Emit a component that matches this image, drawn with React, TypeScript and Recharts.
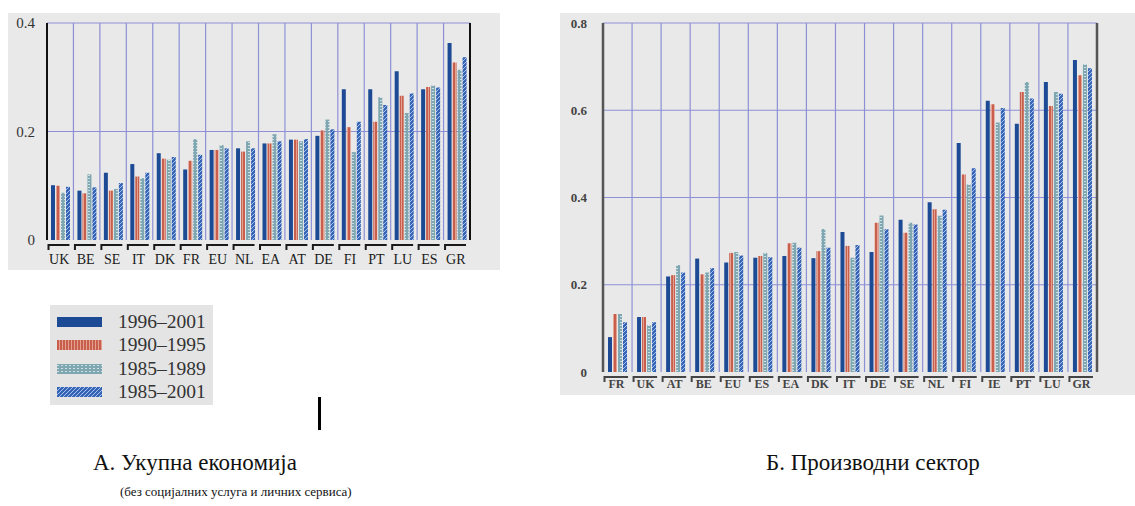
import { BarChart, Bar, XAxis, YAxis, CartesianGrid } from "recharts";

const SERIF = '"Liberation Serif", "DejaVu Serif", "Noto Serif", Tinos, "Times New Roman", serif';

// series names (legend order)
const seriesNames = ["1996–2001", "1990–1995", "1985–1989", "1985–2001"];
const seriesKeys = ["a", "b", "c", "d"];
const seriesFills = ["#1d4a94", "url(#pRed)", "url(#pTeal)", "url(#pHatch)"];

// A. total economy
const leftCats = ["UK", "BE", "SE", "IT", "DK", "FR", "EU", "NL", "EA", "AT", "DE", "FI", "PT", "LU", "ES", "GR"];
const left9601 = [0.101, 0.091, 0.124, 0.14, 0.16, 0.13, 0.166, 0.169, 0.178, 0.185, 0.192, 0.278, 0.278, 0.311, 0.278, 0.363];
const left9095 = [0.1, 0.086, 0.091, 0.117, 0.15, 0.146, 0.166, 0.163, 0.178, 0.185, 0.202, 0.208, 0.218, 0.266, 0.282, 0.327];
const left8589 = [0.087, 0.121, 0.094, 0.114, 0.148, 0.186, 0.175, 0.182, 0.195, 0.182, 0.222, 0.162, 0.263, 0.234, 0.285, 0.314];
const left8501 = [0.098, 0.097, 0.105, 0.124, 0.153, 0.157, 0.169, 0.169, 0.182, 0.186, 0.204, 0.218, 0.249, 0.27, 0.281, 0.337];
const leftTicks = [0, 0.2, 0.4];

// Б. manufacturing
const rightCats = ["FR", "UK", "AT", "BE", "EU", "ES", "EA", "DK", "IT", "DE", "SE", "NL", "FI", "IE", "PT", "LU", "GR"];
const right9601 = [0.08, 0.126, 0.219, 0.26, 0.251, 0.262, 0.266, 0.261, 0.321, 0.275, 0.349, 0.389, 0.525, 0.622, 0.569, 0.665, 0.715];
const right9095 = [0.133, 0.126, 0.222, 0.224, 0.273, 0.266, 0.295, 0.277, 0.289, 0.342, 0.319, 0.373, 0.453, 0.614, 0.642, 0.61, 0.68];
const right8589 = [0.133, 0.107, 0.245, 0.228, 0.275, 0.273, 0.296, 0.328, 0.262, 0.359, 0.342, 0.358, 0.43, 0.572, 0.665, 0.642, 0.705];
const right8501 = [0.114, 0.114, 0.228, 0.238, 0.267, 0.263, 0.285, 0.285, 0.291, 0.327, 0.338, 0.372, 0.467, 0.605, 0.627, 0.638, 0.696];
const rightTicks = [0, 0.2, 0.4, 0.6, 0.8];

const leftData = leftCats.map((name, i) => ({
  name,
  a: left9601[i],
  b: left9095[i],
  c: left8589[i],
  d: left8501[i],
}));

const rightData = rightCats.map((name, i) => ({
  name,
  a: right9601[i],
  b: right9095[i],
  c: right8589[i],
  d: right8501[i],
}));

const GRID = "#8d90d6";

const fmt = (v: number) => (v === 0 ? "0" : String(v));

// vertical lines on the category boundaries (not the centres)
const boundaryLines = (n: number) => (props: any) => {
  const o = props.offset;
  const out: number[] = [];
  for (let i = 1; i < n; i++) out.push(o.left + (i * o.width) / n);
  return out;
};

// horizontal lines on every tick except 0
const tickLines = (ticks: number[], max: number) => (props: any) => {
  const o = props.offset;
  return ticks
    .filter((t) => t > 0)
    .map((t) => o.top + o.height * (1 - t / max));
};

const BracketTick = (props: any) => {
  const { x, y, payload, fontSize, color, weight, dy } = props;
  const half = payload.offset || 13;
  const x0 = x - half + 1.5;
  const x1 = x + half - 4;
  return (
    <g>
      <path
        d={`M${x0},${y + 10} L${x0},${y + 5} L${x1},${y + 5}`}
        stroke={color}
        strokeWidth={2}
        fill="none"
      />
      <text
        x={x - 1}
        y={y + dy}
        textAnchor="middle"
        fontSize={fontSize}
        fontWeight={weight}
        fill={color}
        style={{ fontFamily: SERIF }}
      >
        {payload.value}
      </text>
    </g>
  );
};

const Patterns = () => (
  <svg width={0} height={0} style={{ position: "absolute" }}>
    <defs>
      <pattern id="pRed" width={3} height={3} patternUnits="userSpaceOnUse">
        <rect width={3} height={3} fill="#c85f4c" />
        <rect x={2} width={1} height={3} fill="#e4a091" />
      </pattern>
      <pattern id="pTeal" width={4} height={3} patternUnits="userSpaceOnUse">
        <rect width={4} height={3} fill="#7ea7b1" />
        <rect y={1} width={2} height={1} fill="#cfe0e4" />
      </pattern>
      <pattern id="pHatch" width={4} height={4} patternUnits="userSpaceOnUse">
        <rect width={4} height={4} fill="#3564b6" />
        <path d="M0,4 L4,0" stroke="#a9c2ec" strokeWidth={1} />
      </pattern>
    </defs>
  </svg>
);

const Swatch = ({ fill }: { fill: string }) => (
  <svg width={45} height={10} style={{ display: "block" }}>
    <rect width={45} height={10} fill={fill} />
  </svg>
);

const axisTick = (size: number, color: string, weight: string, anchor?: string) => ({
  fontSize: size,
  fill: color,
  fontWeight: weight,
  style: { fontFamily: SERIF },
  ...(anchor ? { textAnchor: anchor } : {}),
});

export default function App() {
  return (
    <div
      style={{
        position: "absolute",
        left: 0,
        top: 0,
        width: 1135,
        height: 506,
        background: "#fff",
        fontFamily: SERIF,
        overflow: "hidden",
      }}
    >
      <Patterns />

      {/* panel A */}
      <div style={{ position: "absolute", left: 8, top: 13, width: 492, height: 257, background: "#e9e9e9" }} />
      <div style={{ position: "absolute", left: 0, top: 0 }}>
        <BarChart
          width={510}
          height={280}
          data={leftData}
          margin={{ top: 23, right: 0, bottom: 0, left: 0 }}
          barGap={1}
          barCategoryGap="14%"
        >
          <CartesianGrid
            stroke={GRID}
            strokeWidth={1.2}
            horizontalCoordinatesGenerator={tickLines(leftTicks, 0.4)}
            verticalCoordinatesGenerator={boundaryLines(leftCats.length)}
          />
          <XAxis
            dataKey="name"
            height={40}
            axisLine={false}
            tickLine={false}
            tickSize={0}
            tickMargin={0}
            interval={0}
            tick={<BracketTick fontSize={14} color="#1a1a1a" weight="normal" dy={24} />}
          />
          <YAxis
            yAxisId="l"
            width={47}
            domain={[0, 0.4]}
            ticks={leftTicks}
            tickFormatter={fmt}
            axisLine={{ stroke: "#111", strokeWidth: 2 }}
            tickLine={false}
            tickSize={0}
            tickMargin={12}
            tick={axisTick(15, "#333", "normal")}
          />
          <YAxis
            yAxisId="r"
            orientation="right"
            width={40}
            domain={[0, 0.4]}
            ticks={leftTicks}
            tickFormatter={fmt}
            axisLine={{ stroke: "#111", strokeWidth: 2 }}
            tickLine={false}
            tickSize={0}
            tickMargin={6}
            tick={axisTick(15, "#333", "normal", "start")}
          />
          {seriesKeys.map((k, i) => (
            <Bar key={k} yAxisId="l" dataKey={k} name={seriesNames[i]} fill={seriesFills[i]} barSize={4} isAnimationActive={false} />
          ))}
        </BarChart>
      </div>

      {/* legend */}
      <div
        style={{
          position: "absolute",
          left: 50,
          top: 305,
          width: 163,
          height: 100,
          background: "#e4e4e4",
          paddingTop: 5,
          boxSizing: "border-box",
        }}
      >
        {seriesNames.map((n, i) => (
          <div key={n} style={{ display: "flex", alignItems: "center", height: 23.5 }}>
            <div style={{ marginLeft: 7 }}>
              <Swatch fill={seriesFills[i]} />
            </div>
            <div style={{ marginLeft: 16, fontSize: 19.5, color: "#333", lineHeight: "20px" }}>{n}</div>
          </div>
        ))}
      </div>

      <div style={{ position: "absolute", left: 318, top: 397, width: 3, height: 33, background: "#000" }} />

      <div style={{ position: "absolute", left: 93, top: 451, fontSize: 23, lineHeight: "24px", color: "#111", whiteSpace: "nowrap" }}>
        А. Укупна економија
      </div>
      <div style={{ position: "absolute", left: 120, top: 484, fontSize: 13, lineHeight: "16px", color: "#111", whiteSpace: "nowrap" }}>
        (без социјалних услуга и личних сервиса)
      </div>

      {/* panel Б */}
      <div style={{ position: "absolute", left: 560, top: 13, width: 575, height: 382, background: "#e9e9e9" }} />
      <div style={{ position: "absolute", left: 560, top: 0 }}>
        <BarChart
          width={575}
          height={400}
          data={rightData}
          margin={{ top: 23, right: 0, bottom: 0, left: 0 }}
          barGap={1}
          barCategoryGap="14%"
        >
          <CartesianGrid
            stroke={GRID}
            strokeWidth={1.2}
            horizontalCoordinatesGenerator={tickLines(rightTicks, 0.8)}
            verticalCoordinatesGenerator={boundaryLines(rightCats.length)}
          />
          <XAxis
            dataKey="name"
            height={28}
            axisLine={false}
            tickLine={false}
            tickSize={0}
            tickMargin={0}
            interval={0}
            tick={<BracketTick fontSize={12} color="#444" weight="bold" dy={16} />}
          />
          <YAxis
            yAxisId="l"
            width={43}
            domain={[0, 0.8]}
            ticks={rightTicks}
            tickFormatter={fmt}
            axisLine={{ stroke: "#555", strokeWidth: 2.5 }}
            tickLine={false}
            tickSize={0}
            tickMargin={16}
            tick={axisTick(13, "#444", "bold")}
          />
          <YAxis
            yAxisId="r"
            orientation="right"
            width={38}
            domain={[0, 0.8]}
            ticks={rightTicks}
            tickFormatter={fmt}
            axisLine={{ stroke: "#555", strokeWidth: 2.5 }}
            tickLine={false}
            tickSize={0}
            tickMargin={8}
            tick={axisTick(13, "#444", "bold", "start")}
          />
          {seriesKeys.map((k, i) => (
            <Bar key={k} yAxisId="l" dataKey={k} name={seriesNames[i]} fill={seriesFills[i]} barSize={4} isAnimationActive={false} />
          ))}
        </BarChart>
      </div>

      <div style={{ position: "absolute", left: 766, top: 451, fontSize: 23, lineHeight: "24px", color: "#111", whiteSpace: "nowrap" }}>
        Б. Производни сектор
      </div>
    </div>
  );
}
